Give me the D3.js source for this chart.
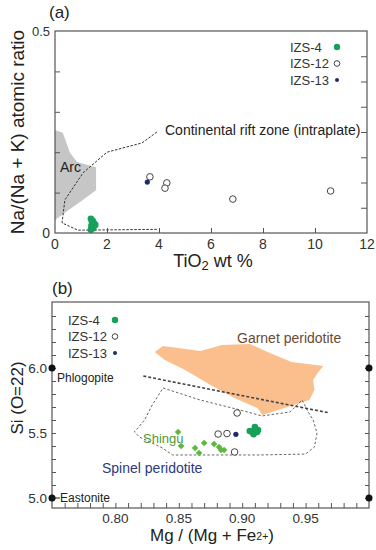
<!DOCTYPE html>
<html>
<head>
<meta charset="utf-8">
<script src="https://cdn.jsdelivr.net/npm/d3@7"></script>
<style>
body { margin: 0; background: #fff; }
text { font-family: "Liberation Sans", Arial, sans-serif; }
</style>
</head>
<body>
<div id="chart"></div>
<script>
// ---- panel (a) data: TiO2 vs Na/(Na+K)
var a_izs4 = [[1.38, 0.035], [1.42, 0.028], [1.5, 0.024], [1.4, 0.018], [1.47, 0.012], [1.55, 0.02], [1.38, 0.008], [1.45, 0.03]];
var a_izs12 = [[3.65, 0.139], [4.3, 0.124], [4.23, 0.111], [6.84, 0.084], [10.6, 0.104]];
var a_izs13 = [[3.55, 0.126]];
var arcField = [[0, 0.255], [0.3, 0.248], [0.58, 0.198], [0.85, 0.176], [1.58, 0.163], [1.58, 0.106],
    [1.08, 0.082], [0.38, 0.05], [0, 0.032]];
var riftLine = [[3.92, 0.25], [3.35, 0.223], [2.0, 0.2], [1.08, 0.149], [0.38, 0.082], [0.27, 0.025],
    [0.88, 0.007], [3.96, 0.009]];
var a_xticks = [0, 2, 4, 6, 8, 10, 12];

// ---- panel (b) data: Mg/(Mg+Fe2+) vs Si
var b_izs4 = [[0.9078, 5.508], [0.910, 5.546], [0.9117, 5.508], [0.906, 5.515], [0.909, 5.49], [0.9125, 5.523]];
var b_izs12 = [[0.896, 5.654], [0.881, 5.492], [0.888, 5.496], [0.894, 5.354]];
var b_izs13 = [[0.895, 5.49]];
var shingu = [[0.8494, 5.508], [0.8518, 5.40], [0.8628, 5.385], [0.866, 5.346], [0.870, 5.423],
    [0.8778, 5.415], [0.8818, 5.392], [0.8833, 5.369], [0.8857, 5.369]];
var garnetField = [[0.831, 6.123], [0.8375, 6.169], [0.867, 6.131], [0.884, 6.177], [0.906, 6.185],
    [0.920, 6.123], [0.939, 6.046], [0.964, 6.015], [0.960, 5.969], [0.956, 5.908], [0.957, 5.831],
    [0.953, 5.754], [0.938, 5.708], [0.916, 5.638], [0.912, 5.692], [0.894, 5.769], [0.875, 5.869],
    [0.855, 5.985], [0.839, 6.062]];
var spinelField = [[0.8376, 5.846], [0.8668, 5.754], [0.8983, 5.677], [0.9156, 5.631], [0.9378, 5.662],
    [0.9472, 5.754], [0.952, 5.662], [0.956, 5.60], [0.959, 5.50], [0.957, 5.392], [0.950, 5.338],
    [0.914, 5.331], [0.867, 5.331], [0.845, 5.331], [0.837, 5.385], [0.819, 5.469], [0.815, 5.508],
    [0.823, 5.60], [0.829, 5.715], [0.8376, 5.846]];
var boundaryLine = [[0.822, 5.938], [0.969, 5.654]];
var endMembers = [[0.75, 6.0], [0.75, 5.0], [1.0, 6.0], [1.0, 5.0]];
var b_xticks = [0.80, 0.85, 0.90, 0.95];
var b_yticks = [5.0, 5.5, 6.0];

var legendNames = ["IZS-4", "IZS-12", "IZS-13"];

var green = "#16a05a", navy = "#1f2a6b", frame = "#555";

var svg = d3.select("#chart").append("svg")
    .attr("width", 376)
    .attr("height", 550);

function marker(g, pts, kind, x, y) {
    g.selectAll(null)
        .data(pts)
        .enter()
        .append("circle")
        .attr("cx", function (d) { return x(d[0]); })
        .attr("cy", function (d) { return y(d[1]); })
        .attr("r", kind == "izs13" ? 2.6 : 3.3)
        .attr("fill", kind == "izs4" ? green : kind == "izs13" ? navy : "#fff")
        .attr("stroke", kind == "izs12" ? "#444" : "none")
        .attr("stroke-width", 1);
}

function legend(g, lx, ly) {
    legendNames.forEach(function (n, i) {
        g.append("text")
            .attr("x", lx)
            .attr("y", ly + i * 16.5 + 4.5)
            .attr("font-size", 13)
            .attr("fill", "#333")
            .text(n);
        var kind = ["izs4", "izs12", "izs13"][i];
        g.append("circle")
            .attr("cx", lx + 47)
            .attr("cy", ly + i * 16.5)
            .attr("r", kind == "izs13" ? 2 : kind == "izs4" ? 3.2 : 2.8)
            .attr("fill", kind == "izs4" ? green : kind == "izs13" ? navy : "#fff")
            .attr("stroke", kind == "izs12" ? "#444" : "none");
    });
}

// ================= panel (a)
var xa = d3.scaleLinear().domain([0, 12]).range([55, 367]);
var ya = d3.scaleLinear().domain([0, 0.5]).range([233, 31]);
var ga = svg.append("g");
var line = d3.line();

ga.append("path")
    .attr("d", line(arcField.map(function (d) { return [xa(d[0]), ya(d[1])]; })) + "Z")
    .attr("fill", "#c6c6c6");

ga.append("path")
    .attr("d", line(riftLine.map(function (d) { return [xa(d[0]), ya(d[1])]; })))
    .attr("fill", "none")
    .attr("stroke", "#333")
    .attr("stroke-width", 1)
    .attr("stroke-dasharray", "2.5,1.5");

ga.append("text").attr("x", 60).attr("y", 172).attr("font-size", 14).attr("fill", "#222").text("Arc");
ga.append("text").attr("x", 165).attr("y", 135).attr("font-size", 14).attr("fill", "#222")
    .text("Continental rift zone (intraplate)");

marker(ga, a_izs12, "izs12", xa, ya);
marker(ga, a_izs13, "izs13", xa, ya);
marker(ga, a_izs4, "izs4", xa, ya);

// frame
ga.append("rect")
    .attr("x", xa(0)).attr("y", ya(0.5))
    .attr("width", xa(12) - xa(0)).attr("height", ya(0) - ya(0.5))
    .attr("fill", "none").attr("stroke", frame).attr("stroke-width", 1.2);

// inner ticks
ga.append("g").attr("transform", "translate(0," + ya(0) + ")")
    .call(d3.axisTop(xa).tickValues([2, 4, 6, 8, 10]).tickSize(5).tickFormat(""))
    .call(function (s) { s.select(".domain").remove(); s.selectAll("line").attr("stroke", frame); });
ga.append("g").attr("transform", "translate(" + xa(0) + ",0)")
    .call(d3.axisRight(ya).tickValues([0.1, 0.2, 0.3, 0.4]).tickSize(5).tickFormat(""))
    .call(function (s) { s.select(".domain").remove(); s.selectAll("line").attr("stroke", frame); });
ga.append("g").attr("transform", "translate(" + xa(12) + ",0)")
    .call(d3.axisLeft(ya).tickValues(d3.range(1, 8).map(function (i) { return i * 0.5 / 8; })).tickSize(6).tickFormat(""))
    .call(function (s) { s.select(".domain").remove(); s.selectAll("line").attr("stroke", frame); });

// labels
ga.selectAll(null).data(a_xticks).enter().append("text")
    .attr("x", function (d) { return xa(d); })
    .attr("y", 249).attr("text-anchor", "middle").attr("font-size", 14).attr("fill", "#333")
    .text(function (d) { return d; });
ga.append("text").attr("x", 50).attr("y", 238).attr("text-anchor", "end").attr("font-size", 14).attr("fill", "#333").text("0");
ga.append("text").attr("x", 50).attr("y", 36).attr("text-anchor", "end").attr("font-size", 13).attr("fill", "#333").text("0.5");

var tx = ga.append("text").attr("x", 213).attr("y", 267).attr("text-anchor", "middle").attr("font-size", 18).attr("fill", "#222");
tx.append("tspan").text("TiO");
tx.append("tspan").attr("font-size", 13).attr("dy", 3).text("2");
tx.append("tspan").attr("dy", -3).text(" wt %");

ga.append("text").attr("transform", "translate(24,132) rotate(-90)")
    .attr("text-anchor", "middle").attr("font-size", 19).attr("fill", "#222")
    .text("Na/(Na + K) atomic ratio");

ga.append("text").attr("x", 49).attr("y", 18).attr("font-size", 17).attr("fill", "#222").text("(a)");

legend(ga, 290, 47);

// ================= panel (b)
var xb = d3.scaleLinear().domain([0.75, 1.0]).range([52, 369]);
var yb = d3.scaleLinear().domain([5.0, 6.0]).range([498, 368]);
var yTop = 302, yBot = 508;
var gb = svg.append("g");

gb.append("path")
    .attr("d", line(garnetField.map(function (d) { return [xb(d[0]), yb(d[1])]; })) + "Z")
    .attr("fill", "#fbbf8e");

gb.append("path")
    .attr("d", line(spinelField.map(function (d) { return [xb(d[0]), yb(d[1])]; })))
    .attr("fill", "none")
    .attr("stroke", "#666")
    .attr("stroke-width", 1)
    .attr("stroke-dasharray", "2.5,2");

gb.append("path")
    .attr("d", line(boundaryLine.map(function (d) { return [xb(d[0]), yb(d[1])]; })))
    .attr("fill", "none")
    .attr("stroke", "#444")
    .attr("stroke-width", 1.6)
    .attr("stroke-dasharray", "3,2");

gb.selectAll(null).data(shingu).enter().append("path")
    .attr("d", d3.symbol().type(d3.symbolDiamond2).size(28))
    .attr("transform", function (d) { return "translate(" + xb(d[0]) + "," + yb(d[1]) + ")"; })
    .attr("fill", "#5fb83e");

gb.append("text").attr("x", 143).attr("y", 443).attr("font-size", 13).attr("fill", "#4f9a35").text("Shingu");
gb.append("text").attr("x", 237).attr("y", 343).attr("font-size", 14).attr("fill", "#6b4a34").text("Garnet peridotite");
gb.append("text").attr("x", 102).attr("y", 473).attr("font-size", 14).attr("fill", "#2c3a80").text("Spinel peridotite");

marker(gb, b_izs12, "izs12", xb, yb);
marker(gb, b_izs13, "izs13", xb, yb);
marker(gb, b_izs4, "izs4", xb, yb);

gb.append("rect")
    .attr("x", xb(0.75)).attr("y", yTop)
    .attr("width", xb(1.0) - xb(0.75)).attr("height", yBot - yTop)
    .attr("fill", "none").attr("stroke", frame).attr("stroke-width", 1.2);

gb.append("g").attr("transform", "translate(0," + yBot + ")")
    .call(d3.axisTop(xb).tickValues(d3.range(76, 100).map(function (i) { return i / 100; })).tickSize(5).tickFormat(""))
    .call(function (s) { s.select(".domain").remove(); s.selectAll("line").attr("stroke", frame); });
var yminor = d3.range(50, 65).map(function (i) { return i / 10; });
gb.append("g").attr("transform", "translate(" + xb(0.75) + ",0)")
    .call(d3.axisRight(yb).tickValues(yminor).tickSize(4).tickFormat(""))
    .call(function (s) { s.select(".domain").remove(); s.selectAll("line").attr("stroke", frame); });
gb.append("g").attr("transform", "translate(" + xb(1.0) + ",0)")
    .call(d3.axisLeft(yb).tickValues(yminor).tickSize(4).tickFormat(""))
    .call(function (s) { s.select(".domain").remove(); s.selectAll("line").attr("stroke", frame); });

gb.selectAll(null).data(endMembers).enter().append("circle")
    .attr("cx", function (d) { return xb(d[0]); })
    .attr("cy", function (d) { return yb(d[1]); })
    .attr("r", 3.5).attr("fill", "#111");

gb.append("text").attr("x", 57).attr("y", 382).attr("font-size", 12).attr("fill", "#222").text("Phlogopite");
gb.append("line").attr("x1", xb(0.75)).attr("x2", 60).attr("y1", yb(5.0)).attr("y2", yb(5.0)).attr("stroke", "#222");
gb.append("text").attr("x", 60).attr("y", 502).attr("font-size", 12).attr("fill", "#222").text("Eastonite");

gb.selectAll(null).data(b_xticks).enter().append("text")
    .attr("x", function (d) { return xb(d); })
    .attr("y", 523).attr("text-anchor", "middle").attr("font-size", 13.5).attr("fill", "#333")
    .text(function (d) { return d.toFixed(2); });
gb.selectAll(null).data(b_yticks).enter().append("text")
    .attr("x", 47).attr("y", function (d) { return yb(d) + 5; })
    .attr("text-anchor", "end").attr("font-size", 13.5).attr("fill", "#333")
    .text(function (d) { return d.toFixed(1); });

var tb = gb.append("text").attr("x", 212).attr("y", 541).attr("text-anchor", "middle").attr("font-size", 17).attr("fill", "#222");
tb.append("tspan").text("Mg / (Mg + Fe");
tb.append("tspan").attr("font-size", 10.5).attr("dy", -1).text("2+");
tb.append("tspan").attr("dy", 1).text(")");

gb.append("text").attr("transform", "translate(23,398) rotate(-90)")
    .attr("text-anchor", "middle").attr("font-size", 17).attr("fill", "#222")
    .text("Si (O=22)");

gb.append("text").attr("x", 52).attr("y", 294).attr("font-size", 17).attr("fill", "#222").text("(b)");

legend(gb, 68, 320);
</script>
</body>
</html>
